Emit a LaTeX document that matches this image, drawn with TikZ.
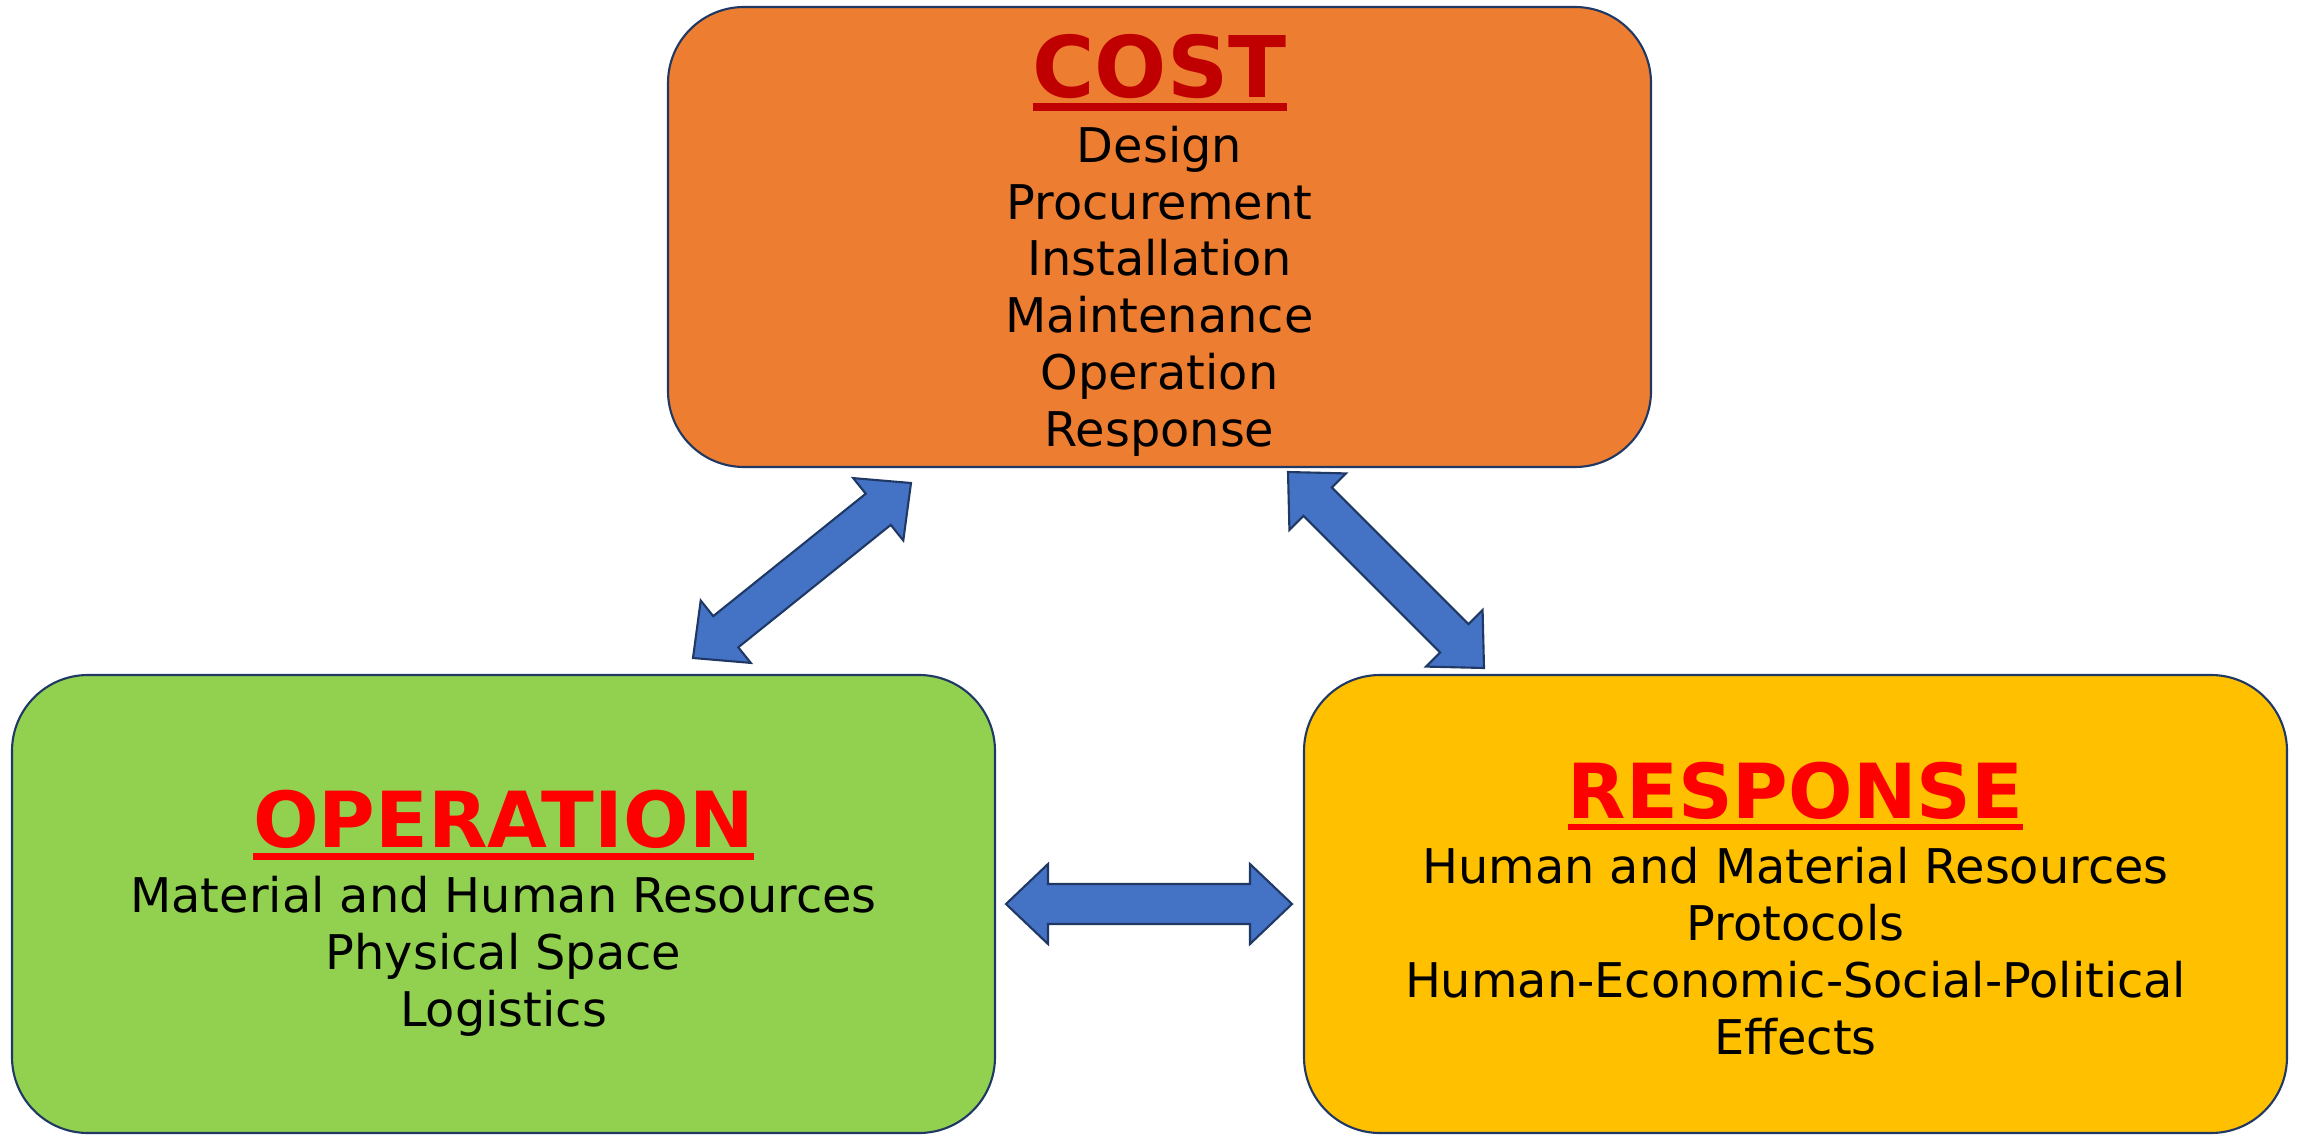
\documentclass[tikz,border=0pt]{standalone}
\usepackage{fontspec}
\setmainfont{DejaVu Sans}
\usepackage{tikz}
\usetikzlibrary{calc,positioning}
\definecolor{costorange}{HTML}{ED7D31}
\definecolor{opgreen}{HTML}{92D050}
\definecolor{respgold}{HTML}{FFC000}
\definecolor{arrowblue}{HTML}{4472C4}
\definecolor{navy}{HTML}{1F3864}
\definecolor{darkred}{HTML}{C00000}
\definecolor{brightred}{HTML}{FF0000}
\newcommand{\boxtitle}[3]{{\fontsize{#1}{16.2}\selectfont\bfseries\color{#2}\setbox0\hbox{#3}\rlap{\raisebox{-0.16em}{\rule{\wd0}{0.09em}}}\box0}}

\begin{document}
\begin{tikzpicture}[every node/.style={font=\fontsize{13.6}{16.2}\selectfont,align=center},
  s/.style={rounded corners=7.6mm,draw=navy,line width=0.6pt,inner sep=0pt,minimum width=9.83cm,minimum height=4.58cm},
  t/.style={inner sep=0pt,outer sep=0pt},
  a/.style={draw=navy,line width=0.6pt,fill=arrowblue,line join=miter,
    to path={let \p1=(\tikztostart),\p2=(\tikztotarget),\n1={atan2(\y2-\y1,\x2-\x1)} in
      (\p1) -- ($(\p1)+(\n1:4.2mm)+(\n1+90:4mm)$) -- ($(\p1)+(\n1:4.2mm)+(\n1+90:2mm)$)
      -- ($(\p2)+(\n1:-4.2mm)+(\n1+90:2mm)$) -- ($(\p2)+(\n1:-4.2mm)+(\n1+90:4mm)$) -- (\p2)
      -- ($(\p2)+(\n1:-4.2mm)+(\n1-90:4mm)$) -- ($(\p2)+(\n1:-4.2mm)+(\n1-90:2mm)$)
      -- ($(\p1)+(\n1:4.2mm)+(\n1-90:2mm)$) -- ($(\p1)+(\n1:4.2mm)+(\n1-90:4mm)$) -- cycle}}]
  \useasboundingbox (0,0) rectangle (22.97,-11.34);
  \node[s,fill=costorange,minimum height=4.6cm] (cost) at (11.595,-2.37) {};
  \node[s,fill=opgreen] (oper) at (5.035,-9.04) {};
  \node[s,fill=respgold] (resp) at (17.955,-9.04) {};
  \node[t,below=2.8mm of cost.north] (costtext)
    {\boxtitle{24.2}{darkred}{COST}\\[2.3pt]Design\\Procurement\\Installation\\Maintenance\\Operation\\Response};
  \node[t,below=11.6mm of oper.north] (opertext)
    {\boxtitle{22}{brightred}{OPERATION}\\[2.3pt]Material and Human Resources\\Physical Space\\Logistics};
  \node[t,below=8.8mm of resp.north] (resptext)
    {\boxtitle{21.6}{brightred}{RESPONSE}\\[2.3pt]Human and Material Resources\\Protocols\\Human-Economic-Social-Political\\Effects};
  \coordinate (op1) at (6.93,-6.58);  \coordinate (co1) at (9.11,-4.83);
  \coordinate (co2) at (12.88,-4.72); \coordinate (re1) at (14.84,-6.68);
  \coordinate (op2) at (10.06,-9.04); \coordinate (re2) at (12.92,-9.04);
  \draw[a] (op1) to (co1);
  \draw[a] (co2) to (re1);
  \draw[a] (op2) to (re2);
\end{tikzpicture}
\end{document}
